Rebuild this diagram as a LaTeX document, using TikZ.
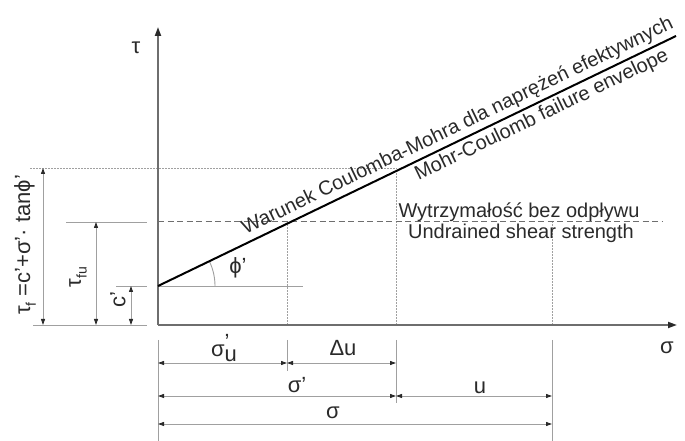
\documentclass[tikz,border=0pt]{standalone}
\usepackage{fontspec}
\setmainfont{Liberation Sans}
\usetikzlibrary{arrows.meta,calc}
\definecolor{axisc}{HTML}{6E6E6E}
\definecolor{dimc}{HTML}{A0A0A0}
\definecolor{inkc}{HTML}{2A2A2A}
\tikzset{
  axis/.style={draw=axisc,line width=1.8pt,-{Triangle[length=9pt,width=6pt,color=inkc]}},
  env/.style={draw=black,line width=2pt},
  ext/.style={draw=dimc,line width=0.9pt},
  dim/.style={ext,{Triangle[length=6pt,width=4pt,color=inkc]}-{Triangle[length=6pt,width=4pt,color=inkc]}},
  guide/.style={draw=dimc,line width=0.9pt,dash pattern=on 1.5pt off 1.5pt},
  undr/.style={draw=axisc,line width=1pt,dash pattern=on 6pt off 3.5pt},
  lab/.style={text=inkc,inner sep=0pt},
}
\newcommand{\sfont}{\fontsize{20}{23}\selectfont}
\newcommand{\gfont}{\fontsize{22}{25}\selectfont}
\newcommand{\subf}{\fontsize{14}{16}\selectfont}

\begin{document}
\begin{tikzpicture}[x=1pt,y=1pt,font=\sfont]
  \useasboundingbox (0,0) rectangle (685,441);
  \coordinate (O) at (158,116);
  \coordinate (ty) at (158,414);
  \coordinate (sx) at (677,116);
  \coordinate (cp) at (158,155);
  \coordinate (tfu) at (158,219);
  \coordinate (tf) at (158,273);
  \coordinate (env) at (676,405);
  \coordinate (ph) at (303,155);
  \coordinate (ue) at (663,219);
  \coordinate (su) at (287,116);
  \coordinate (sp) at (396,116);
  \coordinate (st) at (552,116);
  \coordinate (gap) at (147,0);
  \coordinate (xb) at (0,101);
  \coordinate (bt) at (0,0);
  \coordinate (b1) at (0,70);
  \coordinate (b2) at (0,38);
  \coordinate (r1) at (0,78);
  \coordinate (r2) at (0,45);
  \coordinate (r3) at (0,17);
  \coordinate (ya) at (43,0);
  \coordinate (yb) at (96,0);
  \coordinate (yc) at (131,0);
  \coordinate (l0) at (33,116);
  \coordinate (l1) at (66,219);
  \coordinate (l2) at (116,155);
  \coordinate (l3) at (30,273);

  \draw[guide] (l3) -- (sp |- tf);
  \draw[guide] (su) -- (su |- tfu);
  \draw[guide] (sp) -- (sp |- tf);
  \draw[guide] (st) -- (st |- tfu);
  \foreach \a in {l0,l1,l2}{ \draw[ext] (\a) -- (gap |- \a); }
  \draw[ext] (cp) -- (ph);
  \draw[ext] ($(cp)+(57,0)$) arc[start angle=0,end angle=25.8,radius=57];
  \draw[undr] (tfu) -- (ue);

  \draw[dim] (ya |- O) -- (ya |- tf);
  \draw[dim] (yb |- O) -- (yb |- tfu);
  \draw[dim] (yc |- O) -- (yc |- cp);

  \draw[ext] (O |- xb) -- (O |- bt);
  \draw[ext] (su |- xb) -- (su |- b1);
  \draw[ext] (sp |- xb) -- (sp |- b2);
  \draw[ext] (st |- xb) -- (st |- bt);
  \draw[dim] (O |- r1) -- (su |- r1);
  \draw[dim] (su |- r1) -- (sp |- r1);
  \draw[dim] (O |- r2) -- (sp |- r2);
  \draw[dim] (sp |- r2) -- (st |- r2);
  \draw[dim] (O |- r3) -- (st |- r3);

  \draw[axis] (O) -- (ty);
  \draw[axis] (O) -- (sx);
  \draw[env] (cp) -- node[lab,sloped,above=3pt,pos=0.59] (wm) {Warunek Coulomba-Mohra dla naprężeń efektywnych}
    node[lab,sloped,below=3pt,pos=0.73] (mc) {Mohr-Coulomb failure envelope} (env);

  \node[lab] (uw) at (519,229) {Wytrzymałość bez odpływu};
  \node[lab] (ue2) at (521,208) {Undrained shear strength};
  \node[lab,font=\gfont] (tl) at (136,393) {τ};
  \node[lab,font=\gfont] (sl) at (667,93) {σ};
  \node[lab,font=\gfont] (phl) at (238,173) {ϕ'};
  \node[lab,font=\gfont] (sul) at (224,93) {σ\rlap{\raisebox{0.55ex}{'}}\raisebox{-0.45ex}{u}};
  \node[lab,font=\gfont] (dul) at (343,93) {Δu};
  \node[lab,font=\gfont] (spl) at (297,56) {σ'};
  \node[lab,font=\gfont] (ul) at (480,53) {u};
  \node[lab,font=\gfont] (stl) at (333,28) {σ};
  \node[lab,font=\gfont,rotate=90] (tfl) at (25,196) {τ\raisebox{-0.5ex}{\subf f} =c'+σ'{\textperiodcentered} tanϕ'};
  \node[lab,font=\gfont,rotate=90] (tful) at (78,164) {τ\raisebox{-0.5ex}{\subf fu}};
  \node[lab,font=\gfont,rotate=90] (cl) at (118,141) {c'};
\end{tikzpicture}
\end{document}
